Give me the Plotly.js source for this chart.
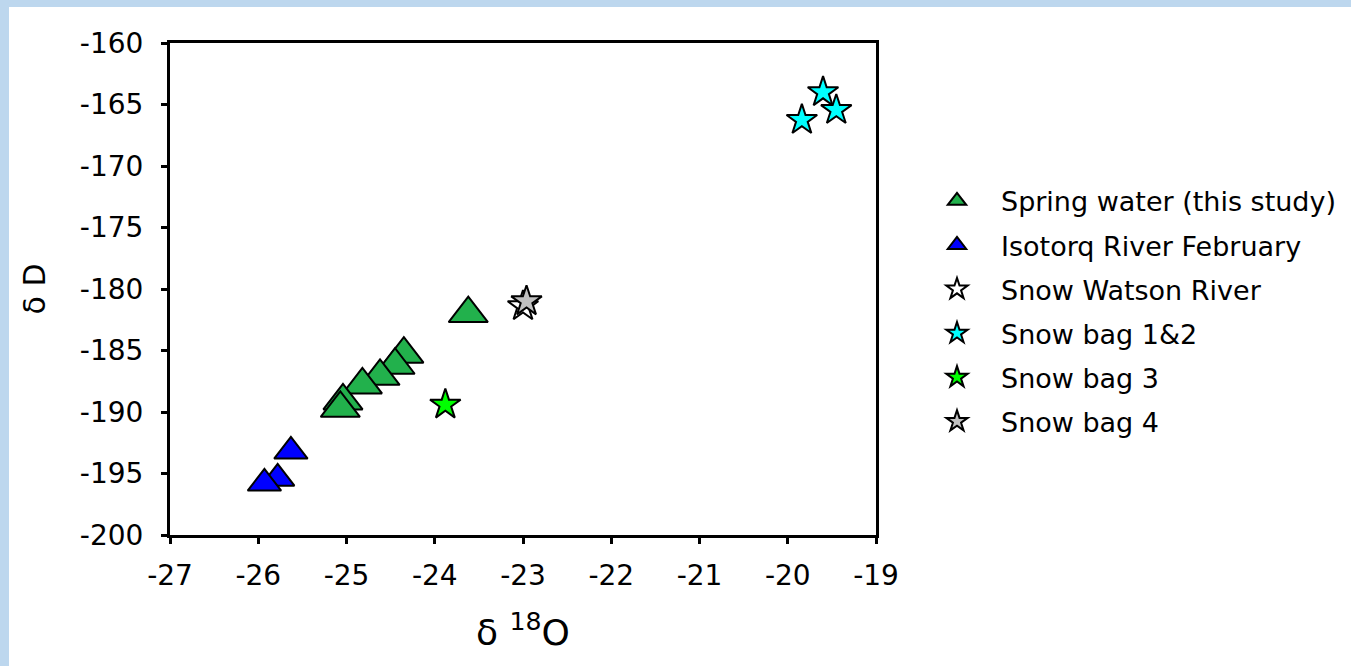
<!DOCTYPE html>
<html>
<head>
<meta charset="utf-8">
<script src="https://cdn.plot.ly/plotly-3.0.1.min.js"></script>
<style>
html,body{margin:0;padding:0;background:#bdd7ee;}
#chart{position:absolute;left:9px;top:7px;width:1342px;height:659px;background:#fff;}
</style>
</head>
<body>
<div id="chart"></div>
<script>
// Data (δ18O, δD)
const springX = [-23.62, -24.35, -24.45, -24.62, -24.82, -25.04, -25.07];
const springY = [-182.0, -185.3, -186.2, -187.1, -187.8, -189.1, -189.7];
const isotorqX = [-25.63, -25.78, -25.93];
const isotorqY = [-193.2, -195.4, -195.8];
const watsonX = [-23.0];
const watsonY = [-181.4];
const bag12X = [-19.60, -19.45, -19.84];
const bag12Y = [-164.0, -165.45, -166.26];
const bag3X = [-23.88];
const bag3Y = [-189.4];
const bag4X = [-22.96];
const bag4Y = [-181.0];
const names = ["Spring water (this study)", "Isotorq River February", "Snow Watson River", "Snow bag 1&2", "Snow bag 3", "Snow bag 4"];
// Tick values and labels (hyphen minus as in the original)
const xTickVals = [-27, -26, -25, -24, -23, -22, -21, -20, -19];
const xTickText = ["-27", "-26", "-25", "-24", "-23", "-22", "-21", "-20", "-19"];
const yTickVals = [-200, -195, -190, -185, -180, -175, -170, -165, -160];
const yTickText = ["-200", "-195", "-190", "-185", "-180", "-175", "-170", "-165", "-160"];

const outline = {color: "#000000", width: 2};
function tr(x, y, name, symbol, color, size, i) {
  return {x: x, y: y, name: name, type: "scatter", mode: "markers", legendgroup: "g" + i,
    marker: {symbol: symbol, color: color, size: size, line: outline}};
}
const data = [
  tr(springX, springY, names[0], "triangle-up", "#22b14c", 34, 0),
  tr(isotorqX, isotorqY, names[1], "triangle-up", "#0000ff", 29, 1),
  tr(watsonX, watsonY, names[2], "star", "#ffffff", 23, 2),
  tr(bag12X, bag12Y, names[3], "star", "#00ffff", 23, 3),
  tr(bag3X, bag3Y, names[4], "star", "#00ff00", 23, 4),
  tr(bag4X, bag4Y, names[5], "star", "#c0c0c0", 23, 5)
];
const tickFont = {family: "DejaVu Sans", size: 28, color: "#000"};
const layout = {
  width: 1342, height: 659,
  margin: {l: 161, r: 475, t: 36, b: 131, autoexpand: false},
  paper_bgcolor: "#ffffff", plot_bgcolor: "#ffffff",
  font: {family: "DejaVu Sans", color: "#000"},
  showlegend: true,
  xaxis: {range: [-27, -19], tickmode: "array", tickvals: xTickVals, ticktext: xTickText,
    showgrid: false, zeroline: false,
    showline: true, mirror: true, linecolor: "#000", linewidth: 3,
    ticks: "outside", ticklen: 6, tickwidth: 3, tickcolor: "#000",
    ticklabelstandoff: 7, tickfont: tickFont,
    title: {text: "δ <sup>18</sup>O", font: {family: "DejaVu Sans", size: 36}, standoff: 30}},
  yaxis: {range: [-200, -160], tickmode: "array", tickvals: yTickVals, ticktext: yTickText,
    showgrid: false, zeroline: false,
    showline: true, mirror: true, linecolor: "#000", linewidth: 3,
    ticks: "outside", ticklen: 6, tickwidth: 3, tickcolor: "#000",
    ticklabelstandoff: 12, tickfont: tickFont,
    title: {text: "δ D", font: {family: "DejaVu Sans", size: 30}, standoff: 26}},
  legend: {x: 1.0524, xanchor: "left", y: 0.728, yanchor: "top",
    font: {family: "DejaVu Sans", size: 27, color: "#000"},
    bgcolor: "rgba(0,0,0,0)", itemwidth: 78, tracegroupgap: 6, traceorder: "grouped"}
};
Plotly.newPlot("chart", data, layout, {displayModeBar: false, responsive: false});
</script>
</body>
</html>
